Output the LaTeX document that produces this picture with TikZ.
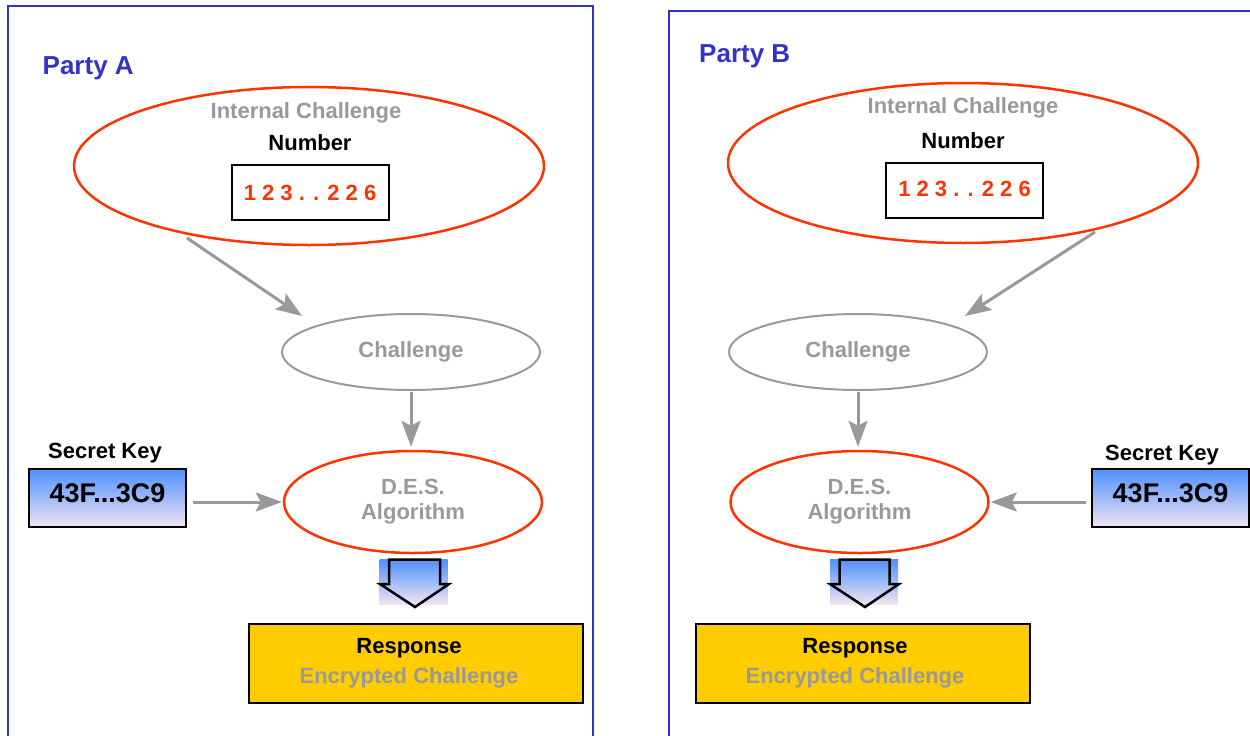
\documentclass[tikz,border=0pt]{standalone}
\usepackage{fontspec}
\setmainfont{Liberation Sans}
\usetikzlibrary{shapes.geometric,arrows.meta}

\definecolor{frameblue}{RGB}{51,51,204}
\definecolor{ovalred}{RGB}{255,51,0}
\definecolor{softgray}{RGB}{153,153,153}
\definecolor{gold}{RGB}{255,204,0}
\definecolor{keytop}{RGB}{77,144,254}
\definecolor{keybot}{RGB}{240,228,242}

\tikzset{
  frame/.style={draw=frameblue, line width=2pt},
  party/.style={font=\fontsize{26}{30}\selectfont\bfseries, text=frameblue, inner sep=0pt, anchor=base west},
  lbl/.style={font=\fontsize{22}{26}\selectfont\bfseries, inner sep=0pt, anchor=base},
  bigoval/.style={ellipse, draw=ovalred, line width=2.5pt, inner sep=0pt,
    minimum width=470pt, minimum height=158pt},
  choval/.style={ellipse, draw=softgray, line width=2pt, inner sep=0pt,
    minimum width=258pt, minimum height=76pt, text=softgray,
    font=\fontsize{22}{26}\selectfont\bfseries},
  desoval/.style={ellipse, draw=ovalred, line width=2.5pt, inner sep=0pt,
    minimum width=258pt, minimum height=102pt, text=softgray, align=center,
    font=\fontsize{22}{25}\selectfont\bfseries},
  numbox/.style={rectangle, draw=black, fill=white, line width=2pt, inner sep=0pt,
    minimum width=157pt, minimum height=55pt},
  digits/.style={font=\fontsize{22}{26}\selectfont\bfseries, text=ovalred, inner sep=0pt, anchor=base},
  keybox/.style={rectangle, draw=black, line width=2pt, inner sep=0pt,
    top color=keytop, bottom color=keybot, minimum width=157pt, minimum height=58pt},
  keytxt/.style={font=\fontsize{27}{30}\selectfont\bfseries, inner sep=0pt, anchor=base},
  blk/.style={rectangle, inner sep=0pt, top color=keytop, bottom color=keybot,
    minimum width=68pt, minimum height=45pt},
  blkline/.style={draw=black, line width=2.5pt, line join=miter},
  resp/.style={rectangle, draw=black, fill=gold, line width=2pt,
    minimum width=334pt, minimum height=79pt},
  resptxt/.style={inner sep=0pt, align=center,
    font=\fontsize{22}{30}\selectfont\bfseries},
  arr/.style={draw=softgray, line width=3pt,
    -{Stealth[length=26pt, width=19pt, inset=5pt]}},
}

\begin{document}
\begin{tikzpicture}[x=1pt, y=-1pt]
\useasboundingbox (0,0) rectangle (1250,736);

% ---------------- Party A ----------------
\draw[frame] (7.5,740) -- (7.5,6) -- (593,6) -- (593,740);
\node[party] (partyA) at (42.5,74) {Party A};

\node[bigoval] (intA) at (309,166) {};
\node[lbl, text=softgray] (icA) at (306,118) {Internal Challenge};
\node[lbl] (numA) at (310,150.5) {Number};
\node[numbox] (nbA) at (310,192.5) {};
\node[digits] (dgA) at ([yshift=-8pt]nbA.center) {1 2 3 . . 2 2 6};

\node[choval] (chA) at (411,352) {Challenge};
\node[desoval] (desA) at (413,502) {D.E.S.\\Algorithm};

\node[lbl] (skA) at (105,458) {Secret Key};
\node[keybox] (keyA) at (107.5,498) {};
\node[keytxt] (ktA) at ([yshift=-4.7pt]keyA.center) {43F...3C9};

\node[blk] (blkA) at (413.5,581.5) {};
\begin{scope}[shift={(blkA.center)}]
  \draw[blkline] (-24.5,-22) -- (-24.5,2.5) -- (-33.5,2.5) -- (1.5,25.5)
    -- (35.5,2.5) -- (26.5,2.5) -- (26.5,-22) -- cycle;
\end{scope}

\node[resp] (respA) at (416,663.5) {};
\node[resptxt] (rtA) at ([xshift=-7pt]respA.center) {Response\\\textcolor{softgray}{Encrypted Challenge}};

\draw[arr] ([shift={(-122,72)}]intA.center) -- ([shift={(-109,-36)}]chA.center);
\draw[arr, shorten <=1pt, shorten >=3pt] (chA.south) -- (chA.south |- desA.north);
\draw[arr, shorten <=6pt, shorten >=1pt] (keyA.east |- desA.west) -- (desA.west);

% ---------------- Party B ----------------
\draw[frame] (669,740) -- (669,11) -- (1252,11);
\node[party] (partyB) at (699,62.7) {Party B};

\node[bigoval, minimum height=160pt] (intB) at (963,163) {};
\node[lbl, text=softgray] (icB) at (963,113) {Internal Challenge};
\node[lbl] (numB) at (963,148) {Number};
\node[numbox] (nbB) at (964.5,190) {};
\node[digits] (dgB) at ([yshift=-6pt]nbB.center) {1 2 3 . . 2 2 6};

\node[choval] (chB) at (858,352) {Challenge};
\node[desoval] (desB) at (859.5,502) {D.E.S.\\Algorithm};

\node[lbl] (skB) at (1162,460.5) {Secret Key};
\node[keybox] (keyB) at (1170.5,498) {};
\node[keytxt] (ktB) at ([yshift=-4.7pt]keyB.center) {43F...3C9};

\node[blk] (blkB) at (864,581.5) {};
\begin{scope}[shift={(blkB.center)}]
  \draw[blkline] (-24.5,-22) -- (-24.5,2.5) -- (-34,2.5) -- (1,25.5)
    -- (35,2.5) -- (25.5,2.5) -- (25.5,-22) -- cycle;
\end{scope}

\node[resp] (respB) at (863,663.5) {};
\node[resptxt] (rtB) at ([xshift=-8pt]respB.center) {Response\\\textcolor{softgray}{Encrypted Challenge}};

\draw[arr] ([shift={(132,69)}]intB.center) -- ([shift={(107,-36)}]chB.center);
\draw[arr, shorten <=1pt, shorten >=3pt] (chB.south) -- (chB.south |- desB.north);
\draw[arr, shorten <=5pt, shorten >=1pt] (keyB.west |- desB.east) -- (desB.east);
\end{tikzpicture}
\end{document}
